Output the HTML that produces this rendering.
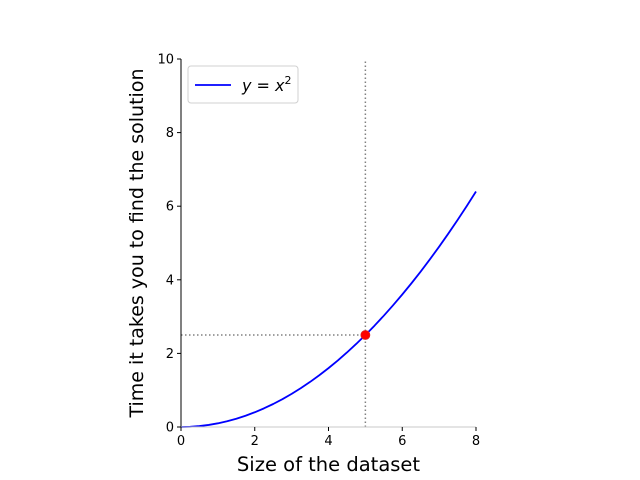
<!DOCTYPE html>
<html><head><meta charset="utf-8"><style>
body{margin:0;background:#fff}
svg{display:block;font-family:"DejaVu Sans","Liberation Sans",sans-serif}
</style></head><body>
<svg id="c" width="640" height="480"></svg>
<script>
const xTicks=[0,2,4,6,8];
const yTicks=[0,2,4,6,8,10];
const curveX=[0,0.25,0.5,0.75,1,1.25,1.5,1.75,2,2.25,2.5,2.75,3,3.25,3.5,3.75,4,4.25,4.5,4.75,5,5.25,5.5,5.75,6,6.25,6.5,6.75,7,7.25,7.5,7.75,8];
const curveY=[0,0.00625,0.025,0.05625,0.1,0.15625,0.225,0.30625,0.4,0.50625,0.625,0.75625,0.9,1.05625,1.225,1.40625,1.6,1.80625,2.025,2.25625,2.5,2.75625,3.025,3.30625,3.6,3.90625,4.225,4.55625,4.9,5.25625,5.625,6.00625,6.4];
const markX=[5];
const markY=[2.5];
const L=181,R=476,T=59,B=427;
const sx=v=>L+(v-0)/(8-0)*(R-L);
const sy=v=>B-(v-0)/(10-0)*(B-T);
const s=document.getElementById('c');
const NS='http://www.w3.org/2000/svg';
function mk(t,a,p){const e=document.createElementNS(NS,t);for(const k in a)e.setAttribute(k,a[k]);(p||s).appendChild(e);return e;}
let g=mk('line',{x1:sx(markX[0]),x2:sx(markX[0]),y1:sy(0),y2:sy(10),stroke:'#808080','stroke-width':1.5,'stroke-dasharray':'1.5,2.5'});


g=mk('line',{x1:sx(0),x2:sx(markX[0]),y1:sy(markY[0]),y2:sy(markY[0]),stroke:'#808080','stroke-width':1.5,'stroke-dasharray':'1.5,2.5'});


const d=curveX.map((x,i)=>(i?'L':'M')+sx(x)+','+sy(curveY[i])).join('');
let c=mk('path',{d:d,fill:'none',stroke:'#0000ff','stroke-width':1.8,'stroke-linejoin':'round'});


let p=mk('circle',{cx:sx(markX[0]),cy:sy(markY[0]),r:4.5,fill:'#ff0000',stroke:'#dd2222','stroke-width':0.8});


let sp=mk('line',{x1:L,x2:L,y1:T,y2:B,stroke:'#000','stroke-width':1});


sp=mk('line',{x1:L,x2:R,y1:B,y2:B,stroke:'#c8c8c8','stroke-width':1});


xTicks.forEach(v=>{
 const t=mk('line',{x1:sx(v),x2:sx(v),y1:B,y2:B+4,stroke:'#000'});
 
 
 const l=mk('text',{x:sx(v),y:B+18,'text-anchor':'middle','font-size':13});
 l.textContent=v;
 
 
});
yTicks.forEach(v=>{
 const t=mk('line',{x1:L-4,x2:L,y1:sy(v),y2:sy(v),stroke:'#000'});
 
 
 const l=mk('text',{x:L-7,y:sy(v)+4.5,'text-anchor':'end','font-size':13});
 l.textContent=v;
 
 
});
let xt=mk('text',{x:(L+R)/2+0,y:471,'text-anchor':'middle','font-size':19.5});
xt.textContent='Size of the dataset';


let yt=mk('text',{x:0,y:0,'text-anchor':'middle','font-size':19,transform:'translate(143,243) rotate(-90)'});
yt.textContent='Time it takes you to find the solution';


let lg=mk('g',{});


mk('rect',{x:188,y:66,width:110,height:37,rx:3,fill:'#fff',stroke:'#d0d0d0'},lg);
let le=mk('line',{x1:195,x2:231,y1:85,y2:85,stroke:'#0000ff','stroke-width':1.8},lg);


let lt=mk('text',{x:242,y:91,'font-size':16},lg);
lt.innerHTML='<tspan font-style="italic">y</tspan> = <tspan font-style="italic">x</tspan><tspan font-size="11" dy="-7">2</tspan>';


</script>
</body></html>
